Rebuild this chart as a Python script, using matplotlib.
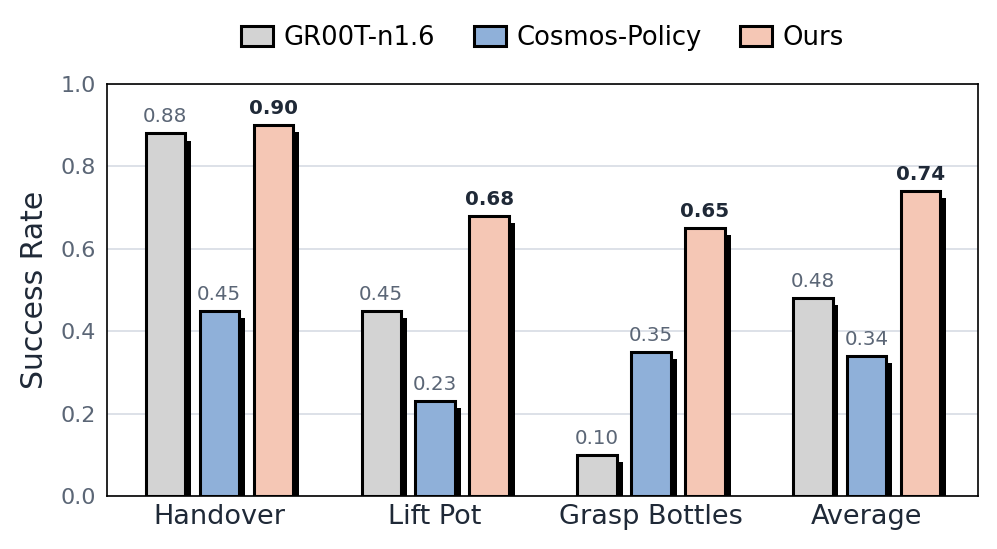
import matplotlib
matplotlib.use("Agg")
import matplotlib.pyplot as plt
import matplotlib.patheffects as pe
import numpy as np

categories = ["Handover", "Lift Pot", "Grasp Bottles", "Average"]
series_names = ["GR00T-n1.6", "Cosmos-Policy", "Ours"]
gr00t = [0.88, 0.45, 0.10, 0.48]
cosmos = [0.45, 0.23, 0.35, 0.34]
ours = [0.90, 0.68, 0.65, 0.74]
yticks = [0.0, 0.2, 0.4, 0.6, 0.8, 1.0]

colors = ["#d3d3d3", "#8fb0d9", "#f5c7b5"]
plt.rcParams['font.family'] = ['DejaVu Sans']

fig = plt.figure(figsize=(9.97, 5.49), dpi=100)
ax = fig.add_axes([107/997, 1-496/549, (978-107)/997, (496-84)/549])

x = np.arange(len(categories))
width = 0.182
step = 0.25
shadow = [pe.SimplePatchShadow(offset=(4.3, -5.2), shadow_rgbFace='black', alpha=1.0), pe.Normal()]

for i, (vals, name) in enumerate(zip([gr00t, cosmos, ours], series_names)):
    pos = x + (i - 1) * step
    bars = ax.bar(pos, vals, width, color=colors[i], edgecolor='black', linewidth=2.2,
                  label=name, zorder=3)
    for b in bars:
        b.set_path_effects(shadow)
    for p, v in zip(pos, vals):
        if i == 2:
            ax.annotate(f"{v:.2f}", (p, v), xytext=(0, 5), textcoords='offset points',
                        ha='center', va='bottom', fontsize=14.3, fontweight='bold',
                        color='#1f2937', zorder=4)
        else:
            ax.annotate(f"{v:.2f}", (p, v), xytext=(0, 5), textcoords='offset points',
                        ha='center', va='bottom', fontsize=14.3, color='#5b6676', zorder=4)

ax.set_xlim(-0.52, 3.515)
ax.set_ylim(0, 1.0)
ax.set_yticks(yticks)
ax.set_yticklabels([f"{t:.1f}" for t in yticks])
ax.set_xticks(x)
ax.set_xticklabels(categories)
ax.tick_params(axis='y', labelsize=16, labelcolor='#5b6676', length=0, pad=8)
ax.tick_params(axis='x', labelsize=19.5, labelcolor='#1f2937', length=0, pad=6)
ax.set_ylabel("Success Rate", fontsize=21.5, color='#1f2937', labelpad=8)
ax.yaxis.grid(True, color='#dde1e8', linewidth=1.4, zorder=0)
ax.set_axisbelow(True)
for s in ax.spines.values():
    s.set_color('black')
    s.set_linewidth(1.2)

leg = ax.legend(loc='center', bbox_to_anchor=(0.5, 1 + 46/412), ncol=3, frameon=False,
                fontsize=18.6, handlelength=1.24, handleheight=0.85, columnspacing=1.5,
                handletextpad=0.4, borderaxespad=0.0)
for h in leg.legend_handles:
    h.set_path_effects([])
    h.set_linewidth(2.2)

fig.savefig("out.png", dpi=100)
